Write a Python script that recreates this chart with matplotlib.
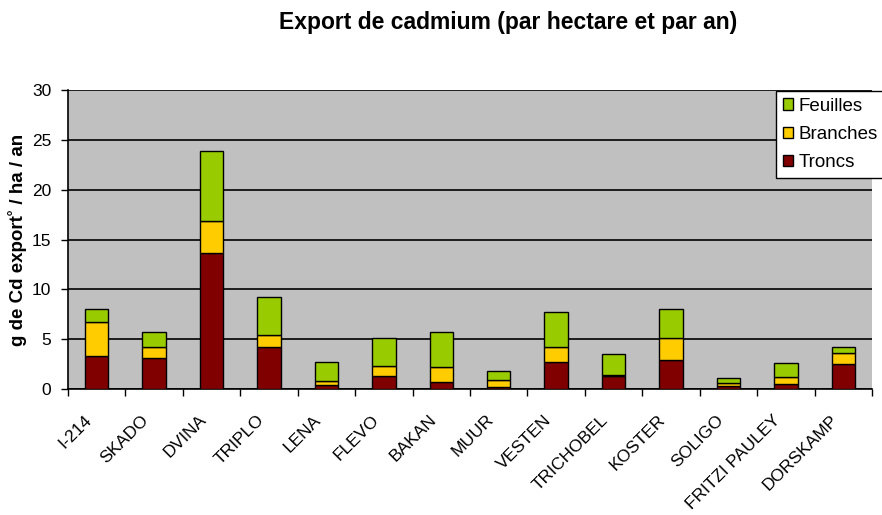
import matplotlib.pyplot as plt
import matplotlib.transforms as mtransforms
import numpy as np
from matplotlib.patches import Patch

plt.rcParams['font.family'] = ['Liberation Sans', 'DejaVu Sans']

# Data (g Cd / ha / an)
clones = ['I-214', 'SKADO', 'DVINA', 'TRIPLO', 'LENA', 'FLEVO', 'BAKAN', 'MUUR',
          'VESTEN', 'TRICHOBEL', 'KOSTER', 'SOLIGO', 'FRITZI PAULEY', 'DORSKAMP']
troncs = [3.3, 3.1, 13.6, 4.25, 0.4, 1.3, 0.7, 0.25, 2.75, 1.3, 2.9, 0.3, 0.5, 2.5]
branches = [3.4, 1.1, 3.3, 1.2, 0.45, 1.05, 1.5, 0.65, 1.45, 0.15, 2.2, 0.3, 0.75, 1.15]
feuilles = [1.35, 1.5, 7.0, 3.75, 1.9, 2.75, 3.5, 0.9, 3.5, 2.05, 2.95, 0.5, 1.35, 0.6]

col_troncs = '#800000'
col_branches = '#ffcc00'
col_feuilles = '#99cc00'

fig = plt.figure(figsize=(8.82, 5.15), dpi=100)
ax = fig.add_axes([68 / 882, 1 - 389 / 515, 804 / 882, 299 / 515])
ax.set_facecolor('#c0c0c0')

x = np.arange(len(clones))
w = 0.41
troncs = np.array(troncs)
branches = np.array(branches)
feuilles = np.array(feuilles)

ax.bar(x, troncs, w, color=col_troncs, edgecolor='black', linewidth=1, zorder=3)
ax.bar(x, branches, w, bottom=troncs, color=col_branches, edgecolor='black', linewidth=1, zorder=3)
ax.bar(x, feuilles, w, bottom=troncs + branches, color=col_feuilles, edgecolor='black', linewidth=1, zorder=3)

ax.set_xlim(-0.5, len(clones) - 0.5)
ax.set_ylim(0, 30)
ax.set_yticks(range(0, 31, 5))
ax.yaxis.grid(True, color='black', linewidth=1.2, zorder=1)
ax.set_axisbelow(True)

ax.set_xticks(x)
ax.set_xticklabels(clones, rotation=45, ha='right', rotation_mode='anchor', fontsize=12.5)
ax.set_xticks(np.arange(-0.5, len(clones)), minor=True)
ax.tick_params(axis='x', which='major', length=0, pad=8)
ax.tick_params(axis='x', which='minor', length=5, width=1, direction='out')
ax.tick_params(axis='y', length=5, width=1, labelsize=12.5, pad=7)

# push the rotated labels down-left like the original
offset = mtransforms.ScaledTranslation(-0.13, -0.12, fig.dpi_scale_trans)
for lab in ax.get_xticklabels():
    lab.set_transform(lab.get_transform() + offset)

for s in ['top', 'right']:
    ax.spines[s].set_visible(False)
ax.spines['left'].set_linewidth(1.2)
ax.spines['bottom'].set_linewidth(1.2)

ax.set_ylabel('g de Cd export˚ / ha / an', fontsize=13.5, fontweight='bold')
ax.yaxis.set_label_coords((27 - 68) / 804, 0.5)

fig.text(508 / 882, 1 - 23 / 515, 'Export de cadmium (par hectare et par an)',
         ha='center', va='center', fontsize=16.5, fontweight='bold')

handles = [Patch(facecolor=col_feuilles, edgecolor='black', label='Feuilles'),
           Patch(facecolor=col_branches, edgecolor='black', label='Branches'),
           Patch(facecolor=col_troncs, edgecolor='black', label='Troncs')]
leg = ax.legend(handles=handles, loc='upper left', bbox_to_anchor=(776 / 882, 1 - 91 / 515),
                bbox_transform=fig.transFigure, borderaxespad=0, fontsize=13.5,
                fancybox=False, framealpha=1, edgecolor='black',
                handlelength=0.55, handleheight=0.55, handletextpad=0.3,
                labelspacing=0.6, borderpad=0.35)
leg.get_frame().set_linewidth(1)

fig.savefig('out.png', dpi=100)
